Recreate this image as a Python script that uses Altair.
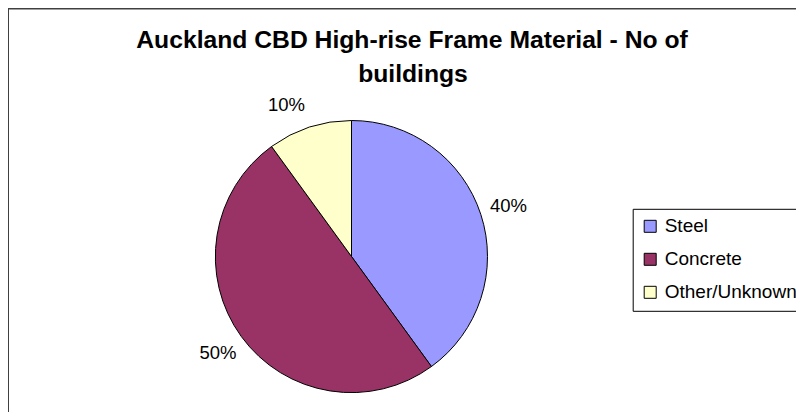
import altair as alt
import pandas as pd

# ---- data ----
materials = ["Steel", "Concrete", "Other/Unknown"]
shares = [40, 50, 10]
share_labels = ["40%", "50%", "10%"]
colors = ["#9999FF", "#993366", "#FFFFCC"]
title_lines = ["Auckland CBD High-rise Frame Material - No of", "buildings"]

df = pd.DataFrame({
    "material": materials,
    "share": shares,
    "label": share_labels,
    "order": list(range(len(materials))),
})
one = pd.DataFrame({"k": [0]})

W, H = 788, 404
CX, CY = 343.5, 248.5
R = 136
LR = 165
FONT = "Liberation Sans"

color = alt.Color(
    "material:N",
    scale=alt.Scale(domain=materials, range=colors),
    legend=alt.Legend(
        title=None, orient="none", legendX=624.7, legendY=200.8,
        strokeColor="black", fillColor="white", padding=8, rowPadding=13,
        labelFont=FONT, labelFontSize=19, labelColor="black", labelOffset=5,
        labelLimit=400, symbolType="square", symbolSize=144,
        symbolStrokeColor="black", symbolStrokeWidth=1, symbolOpacity=1,
    ),
)

base = alt.Chart(df).encode(
    theta=alt.Theta("share:Q", stack=True),
    order=alt.Order("order:Q"),
    x=alt.value(CX),
    y=alt.value(CY),
)

pie = base.mark_arc(outerRadius=R, stroke="black", strokeWidth=1, opacity=1).encode(color=color)

lab_main = base.transform_calculate(
    t="datum.material == 'Other/Unknown' ? '' : datum.label"
).mark_text(
    radius=LR, font=FONT, fontSize=18.5, color="black", align="center", baseline="middle"
).encode(text="t:N")

lab_other = base.transform_calculate(
    t="datum.material == 'Other/Unknown' ? datum.label : ''"
).mark_text(
    radius=LR, font=FONT, fontSize=18.5, color="black", align="center", baseline="middle",
    dx=-14, dy=5.5,
).encode(text="t:N")

border = alt.Chart(one).mark_rect(
    fill="transparent", stroke="#404040", strokeWidth=2
).encode(x=alt.value(0), x2=alt.value(1400), y=alt.value(0.5), y2=alt.value(1400))

t1 = alt.Chart(one).mark_text(
    text=title_lines[0], font=FONT, fontSize=24.7, fontWeight="bold", color="black",
    align="center", baseline="alphabetic",
).encode(x=alt.value(404), y=alt.value(40.3))

t2 = alt.Chart(one).mark_text(
    text=title_lines[1], font=FONT, fontSize=24.7, fontWeight="bold", color="black",
    align="center", baseline="alphabetic",
).encode(x=alt.value(405), y=alt.value(73.7))

chart = alt.layer(border, pie, lab_main, lab_other, t1, t2).properties(
    width=W, height=H, autosize=alt.AutoSizeParams(type="none"), padding=0,
    background="white",
).configure_view(strokeWidth=0)

chart.save("out.html", embed_options={"renderer": "svg", "actions": False})
